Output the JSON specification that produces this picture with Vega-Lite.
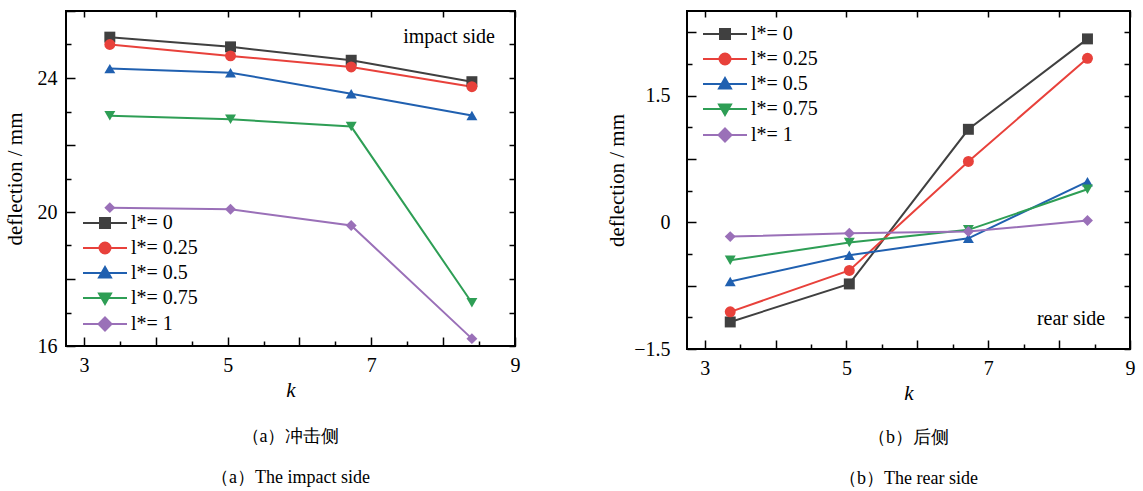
{
  "$schema": "https://vega.github.io/schema/vega-lite/v6.json",
  "background": "white",
  "padding": {"left": 3, "top": 0, "right": 5, "bottom": 5},
  "config": {
    "font": "Liberation Serif",
    "view": {"stroke": "black", "strokeWidth": 2},
    "axis": {"grid": false, "domain": false, "minExtent": 0, "labelFont": "Liberation Serif", "labelFontSize": 20, "labelColor": "black", "tickColor": "black", "tickWidth": 1.5, "titleFont": "Liberation Serif", "titleFontSize": 21, "titleFontWeight": "normal", "titleColor": "black", "labelFlush": false, "labelOverlap": false},
    "concat": {"spacing": 84}
  },
  "datasets": {
    "impact": [
      {"k": 3.36, "d": 25.22, "series": "l*= 0"}, {"k": 5.04, "d": 24.93, "series": "l*= 0"}, {"k": 6.72, "d": 24.53, "series": "l*= 0"}, {"k": 8.4, "d": 23.89, "series": "l*= 0"},
      {"k": 3.36, "d": 25.0, "series": "l*= 0.25"}, {"k": 5.04, "d": 24.66, "series": "l*= 0.25"}, {"k": 6.72, "d": 24.33, "series": "l*= 0.25"}, {"k": 8.4, "d": 23.74, "series": "l*= 0.25"},
      {"k": 3.36, "d": 24.28, "series": "l*= 0.5"}, {"k": 5.04, "d": 24.16, "series": "l*= 0.5"}, {"k": 6.72, "d": 23.53, "series": "l*= 0.5"}, {"k": 8.4, "d": 22.88, "series": "l*= 0.5"},
      {"k": 3.36, "d": 22.87, "series": "l*= 0.75"}, {"k": 5.04, "d": 22.77, "series": "l*= 0.75"}, {"k": 6.72, "d": 22.55, "series": "l*= 0.75"}, {"k": 8.4, "d": 17.29, "series": "l*= 0.75"},
      {"k": 3.36, "d": 20.13, "series": "l*= 1"}, {"k": 5.04, "d": 20.08, "series": "l*= 1"}, {"k": 6.72, "d": 19.6, "series": "l*= 1"}, {"k": 8.4, "d": 16.22, "series": "l*= 1"}
    ],
    "rear": [
      {"k": 3.36, "d": -1.18, "series": "l*= 0"}, {"k": 5.04, "d": -0.73, "series": "l*= 0"}, {"k": 6.72, "d": 1.10, "series": "l*= 0"}, {"k": 8.4, "d": 2.17, "series": "l*= 0"},
      {"k": 3.36, "d": -1.06, "series": "l*= 0.25"}, {"k": 5.04, "d": -0.57, "series": "l*= 0.25"}, {"k": 6.72, "d": 0.72, "series": "l*= 0.25"}, {"k": 8.4, "d": 1.94, "series": "l*= 0.25"},
      {"k": 3.36, "d": -0.70, "series": "l*= 0.5"}, {"k": 5.04, "d": -0.39, "series": "l*= 0.5"}, {"k": 6.72, "d": -0.19, "series": "l*= 0.5"}, {"k": 8.4, "d": 0.48, "series": "l*= 0.5"},
      {"k": 3.36, "d": -0.45, "series": "l*= 0.75"}, {"k": 5.04, "d": -0.24, "series": "l*= 0.75"}, {"k": 6.72, "d": -0.09, "series": "l*= 0.75"}, {"k": 8.4, "d": 0.39, "series": "l*= 0.75"},
      {"k": 3.36, "d": -0.17, "series": "l*= 1"}, {"k": 5.04, "d": -0.13, "series": "l*= 1"}, {"k": 6.72, "d": -0.11, "series": "l*= 1"}, {"k": 8.4, "d": 0.02, "series": "l*= 1"}
    ]
  },
  "resolve": {"scale": {"color": "independent", "shape": "independent", "stroke": "independent", "fill": "independent"}, "legend": {"color": "independent", "shape": "independent", "stroke": "independent", "fill": "independent"}},
  "hconcat": [
    {
      "width": 449, "height": 335,
      "data": {"name": "impact"},
      "title": {"text": ["（a）冲击侧", "（a）The impact side"], "orient": "bottom", "anchor": "middle", "frame": "group", "offset": 28, "fontSize": 18, "lineHeight": 41, "font": "Liberation Serif", "fontWeight": "normal", "color": "black"},
      "layer": [
        {
          "mark": {"type": "line", "strokeWidth": 2},
          "encoding": {
            "x": {"field": "k", "type": "quantitative", "scale": {"domain": [2.75, 9], "nice": false, "zero": false}, "axis": {"orient": "bottom", "values": [3, 4, 5, 6, 7, 8, 9], "labelExpr": "datum.value % 2 == 1 ? datum.label : ''", "tickSize": -9, "labelPadding": 18, "title": "k", "titleFontStyle": "italic", "titlePadding": 4}},
            "y": {"field": "d", "type": "quantitative", "scale": {"domain": [16, 26], "nice": false, "zero": false}, "axis": {"orient": "left", "values": [16, 18, 20, 22, 24, 26], "labelExpr": "datum.value % 4 == 0 ? datum.label : ''", "tickSize": -9, "labelPadding": 18, "title": "deflection / mm", "titlePadding": 12}},
            "stroke": {"field": "series", "type": "nominal", "scale": {"range": ["#404040", "#e8413b", "#2060b0", "#2e9e55", "#9a70b8"]}, "legend": null}
          }
        },
        {
          "mark": {"type": "point", "filled": true, "size": 120, "opacity": 1},
          "encoding": {
            "x": {"field": "k", "type": "quantitative", "axis": {"orient": "bottom", "values": [3.5, 4.5, 5.5, 6.5, 7.5, 8.5], "labels": false, "tickSize": -5, "title": null}},
            "y": {"field": "d", "type": "quantitative", "axis": {"orient": "left", "values": [17, 19, 21, 23, 25], "labels": false, "tickSize": -5, "title": null}},
            "color": {"field": "series", "type": "nominal", "scale": {"range": ["#404040", "#e8413b", "#2060b0", "#2e9e55", "#9a70b8"]}, "legend": null},
            "shape": {"field": "series", "type": "nominal", "scale": {"range": ["square", "circle", "triangle-up", "triangle-down", "diamond"]}, "legend": null}
          }
        },
        {
          "mark": {"type": "point", "opacity": 0, "size": 100},
          "encoding": {
            "x": {"field": "k", "type": "quantitative", "axis": null},
            "y": {"field": "d", "type": "quantitative", "axis": null},
            "fill": {"field": "series", "type": "nominal", "scale": {"domain": ["l*= 0", "l*= 0.25", "l*= 0.5", "l*= 0.75", "l*= 1"], "range": ["#404040", "#e8413b", "#2060b0", "#2e9e55", "#9a70b8"]},
              "legend": {"orient": "bottom-left", "offset": 11, "padding": 0, "title": null, "symbolOffset": 18, "symbolSize": 100, "symbolStrokeWidth": 2, "symbolOpacity": 1, "labelOffset": 16, "labelFont": "Liberation Serif", "labelFontSize": 20, "labelColor": "black", "rowPadding": 5}},
            "stroke": {"field": "series", "type": "nominal", "scale": {"domain": ["l*= 0", "l*= 0.25", "l*= 0.5", "l*= 0.75", "l*= 1"], "range": ["#404040", "#e8413b", "#2060b0", "#2e9e55", "#9a70b8"]},
              "legend": {"orient": "bottom-left", "offset": 11, "padding": 0, "title": null, "symbolOffset": 18, "symbolSize": 100, "symbolStrokeWidth": 2, "symbolOpacity": 1, "labelOffset": 16, "labelFont": "Liberation Serif", "labelFontSize": 20, "labelColor": "black", "rowPadding": 5}},
            "shape": {"field": "series", "type": "nominal", "scale": {"domain": ["l*= 0", "l*= 0.25", "l*= 0.5", "l*= 0.75", "l*= 1"], "range": ["M-4.4,0H4.4M-1,-1H1V1H-1Z", "M-4.4,0H4.4M1.1,0A1.1,1.1,0,1,1,-1.1,0A1.1,1.1,0,1,1,1.1,0Z", "M-4.4,0H4.4M0,-1.2L1.2,0.9H-1.2Z", "M-4.4,0H4.4M0,1.2L1.2,-0.9H-1.2Z", "M-4.4,0H4.4M0,-1.3L1.3,0L0,1.3L-1.3,0Z"]},
              "legend": {"orient": "bottom-left", "offset": 11, "padding": 0, "title": null, "symbolOffset": 18, "symbolSize": 100, "symbolStrokeWidth": 2, "symbolOpacity": 1, "labelOffset": 16, "labelFont": "Liberation Serif", "labelFontSize": 20, "labelColor": "black", "rowPadding": 5}}
          }
        },
        {
          "data": {"values": [{"label": "impact side"}]},
          "mark": {"type": "text", "align": "right", "baseline": "middle", "fontSize": 20, "font": "Liberation Serif", "color": "black"},
          "encoding": {
            "x": {"datum": 8.72, "type": "quantitative", "axis": {"orient": "top", "values": [3, 4, 5, 6, 7, 8, 9], "labels": false, "tickSize": -6, "title": null}},
            "y": {"datum": 25.23, "type": "quantitative", "axis": {"orient": "right", "values": [16, 17, 18, 19, 20, 21, 22, 23, 24, 25, 26], "labels": false, "tickSize": -6, "title": null}},
            "text": {"field": "label"}
          }
        }
      ],
      "resolve": {"axis": {"x": "independent", "y": "independent"}, "scale": {"shape": "independent", "stroke": "independent", "fill": "independent", "color": "independent"}, "legend": {"shape": "independent", "stroke": "independent", "fill": "independent", "color": "independent"}}
    },
    {
      "width": 443, "height": 338,
      "data": {"name": "rear"},
      "title": {"text": ["（b）后侧", "（b）The rear side"], "orient": "bottom", "anchor": "middle", "frame": "group", "offset": 26, "fontSize": 18, "lineHeight": 41, "font": "Liberation Serif", "fontWeight": "normal", "color": "black"},
      "layer": [
        {
          "mark": {"type": "line", "strokeWidth": 2},
          "encoding": {
            "x": {"field": "k", "type": "quantitative", "scale": {"domain": [2.75, 9], "nice": false, "zero": false}, "axis": {"orient": "bottom", "values": [3, 4, 5, 6, 7, 8, 9], "labelExpr": "datum.value % 2 == 1 ? datum.label : ''", "tickSize": -9, "labelPadding": 18, "title": "k", "titleFontStyle": "italic", "titlePadding": 4}},
            "y": {"field": "d", "type": "quantitative", "scale": {"domain": [-1.5, 2.5], "nice": false, "zero": false}, "axis": {"orient": "left", "values": [-1.5, -0.75, 0, 0.75, 1.5, 2.25], "format": ".1~f", "labelExpr": "abs(datum.value) % 1.5 == 0 ? datum.label : ''", "tickSize": -9, "labelPadding": 26, "title": "deflection / mm", "titlePadding": 6}},
            "stroke": {"field": "series", "type": "nominal", "scale": {"range": ["#404040", "#e8413b", "#2060b0", "#2e9e55", "#9a70b8"]}, "legend": null}
          }
        },
        {
          "mark": {"type": "point", "filled": true, "size": 120, "opacity": 1},
          "encoding": {
            "x": {"field": "k", "type": "quantitative", "axis": {"orient": "bottom", "values": [3.5, 4.5, 5.5, 6.5, 7.5, 8.5], "labels": false, "tickSize": -5, "title": null}},
            "y": {"field": "d", "type": "quantitative", "axis": {"orient": "left", "values": [-1.125, -0.375, 0.375, 1.125, 1.875], "labels": false, "tickSize": -5, "title": null}},
            "color": {"field": "series", "type": "nominal", "scale": {"range": ["#404040", "#e8413b", "#2060b0", "#2e9e55", "#9a70b8"]}, "legend": null},
            "shape": {"field": "series", "type": "nominal", "scale": {"range": ["square", "circle", "triangle-up", "triangle-down", "diamond"]}, "legend": null}
          }
        },
        {
          "mark": {"type": "point", "opacity": 0, "size": 100},
          "encoding": {
            "x": {"field": "k", "type": "quantitative", "axis": null},
            "y": {"field": "d", "type": "quantitative", "axis": null},
            "fill": {"field": "series", "type": "nominal", "scale": {"domain": ["l*= 0", "l*= 0.25", "l*= 0.5", "l*= 0.75", "l*= 1"], "range": ["#404040", "#e8413b", "#2060b0", "#2e9e55", "#9a70b8"]},
              "legend": {"orient": "top-left", "offset": 13, "padding": 0, "title": null, "symbolOffset": 15, "symbolSize": 100, "symbolStrokeWidth": 2, "symbolOpacity": 1, "labelOffset": 16, "labelFont": "Liberation Serif", "labelFontSize": 20, "labelColor": "black", "rowPadding": 5}},
            "stroke": {"field": "series", "type": "nominal", "scale": {"domain": ["l*= 0", "l*= 0.25", "l*= 0.5", "l*= 0.75", "l*= 1"], "range": ["#404040", "#e8413b", "#2060b0", "#2e9e55", "#9a70b8"]},
              "legend": {"orient": "top-left", "offset": 13, "padding": 0, "title": null, "symbolOffset": 15, "symbolSize": 100, "symbolStrokeWidth": 2, "symbolOpacity": 1, "labelOffset": 16, "labelFont": "Liberation Serif", "labelFontSize": 20, "labelColor": "black", "rowPadding": 5}},
            "shape": {"field": "series", "type": "nominal", "scale": {"domain": ["l*= 0", "l*= 0.25", "l*= 0.5", "l*= 0.75", "l*= 1"], "range": ["M-4.4,0H4.4M-1,-1H1V1H-1Z", "M-4.4,0H4.4M1.1,0A1.1,1.1,0,1,1,-1.1,0A1.1,1.1,0,1,1,1.1,0Z", "M-4.4,0H4.4M0,-1.2L1.2,0.9H-1.2Z", "M-4.4,0H4.4M0,1.2L1.2,-0.9H-1.2Z", "M-4.4,0H4.4M0,-1.3L1.3,0L0,1.3L-1.3,0Z"]},
              "legend": {"orient": "top-left", "offset": 13, "padding": 0, "title": null, "symbolOffset": 15, "symbolSize": 100, "symbolStrokeWidth": 2, "symbolOpacity": 1, "labelOffset": 16, "labelFont": "Liberation Serif", "labelFontSize": 20, "labelColor": "black", "rowPadding": 5}}
          }
        },
        {
          "data": {"values": [{"label": "rear side"}]},
          "mark": {"type": "text", "align": "right", "baseline": "middle", "fontSize": 20, "font": "Liberation Serif", "color": "black"},
          "encoding": {
            "x": {"datum": 8.65, "type": "quantitative", "axis": {"orient": "top", "values": [3, 4, 5, 6, 7, 8, 9], "labels": false, "tickSize": -6, "title": null}},
            "y": {"datum": -1.14, "type": "quantitative", "axis": {"orient": "right", "values": [-1.5, -1.125, -0.75, -0.375, 0, 0.375, 0.75, 1.125, 1.5, 1.875, 2.25], "labels": false, "tickSize": -6, "title": null}},
            "text": {"field": "label"}
          }
        }
      ],
      "resolve": {"axis": {"x": "independent", "y": "independent"}, "scale": {"shape": "independent", "stroke": "independent", "fill": "independent", "color": "independent"}, "legend": {"shape": "independent", "stroke": "independent", "fill": "independent", "color": "independent"}}
    }
  ]
}
